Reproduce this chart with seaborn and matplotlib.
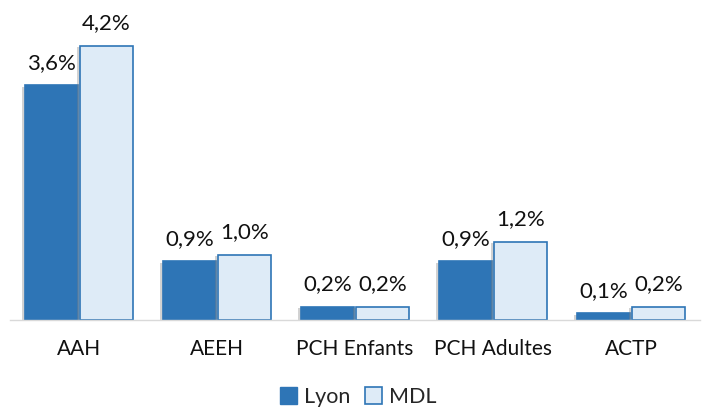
import pandas as pd
import seaborn as sns
import matplotlib.pyplot as plt
import matplotlib.patheffects as pe

sns.set_style('white')
plt.rcParams['font.family'] = ['Lato', 'DejaVu Sans']

# Données
categories = ['AAH', 'AEEH', 'PCH Enfants', 'PCH Adultes', 'ACTP']
lyon = [3.6, 0.9, 0.2, 0.9, 0.1]
mdl = [4.2, 1.0, 0.2, 1.2, 0.2]
series = ['Lyon', 'MDL']

df = pd.DataFrame({
    'cat': categories * 2,
    'valeur': lyon + mdl,
    'serie': ['Lyon'] * len(lyon) + ['MDL'] * len(mdl),
})

bleu = '#2E75B6'
bleu_clair = '#DEEBF7'

fig = plt.figure(figsize=(7.02, 4.09), dpi=100)
ax = fig.add_axes([10 / 702, 89 / 409, 690 / 702, 300 / 409])

sns.barplot(data=df, x='cat', y='valeur', hue='serie', hue_order=series,
            palette=[bleu, bleu_clair], edgecolor=bleu, linewidth=1.2,
            saturation=1, width=0.8, gap=0.03, ax=ax, legend=False)

# ombre légère à gauche des barres
for b in ax.patches:
    b.set_path_effects([pe.SimplePatchShadow(offset=(-2, -1), shadow_rgbFace='gray', alpha=0.35),
                        pe.Normal()])

for cont in ax.containers:
    labels = [f"{b.get_height():.1f}%".replace('.', ',') for b in cont]
    ax.bar_label(cont, labels=labels, padding=9, fontsize=16, color='#111111')

ax.set_ylim(0, 4.6)
ax.set_xlim(-0.5, 4.5)
ax.set_xlabel('')
ax.set_ylabel('')
ax.set_yticks([])
ax.tick_params(axis='x', labelsize=15, length=0, pad=14, colors='#111111')
for s in ['top', 'right', 'left']:
    ax.spines[s].set_visible(False)
ax.spines['bottom'].set_color('#D9D9D9')
ax.spines['bottom'].set_linewidth(1)

handles = [plt.Rectangle((0, 0), 1, 1, facecolor=bleu, edgecolor=bleu),
           plt.Rectangle((0, 0), 1, 1, facecolor=bleu_clair, edgecolor=bleu, linewidth=1.2)]
fig.legend(handles, series, loc='center', bbox_to_anchor=(358 / 702, 1 - 397 / 409),
           ncol=2, frameon=False, fontsize=15.5, handlelength=0.8, handleheight=0.8,
           handletextpad=0.3, columnspacing=0.7)

plt.savefig('out.png', dpi=100)
